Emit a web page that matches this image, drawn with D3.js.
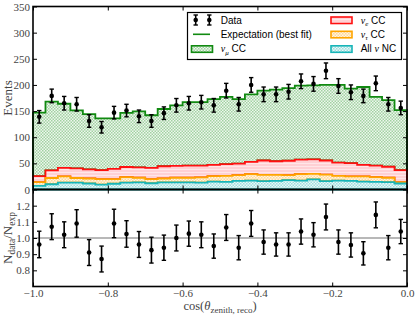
<!DOCTYPE html>
<html>
<head>
<meta charset="utf-8">
<script src="https://cdn.jsdelivr.net/npm/d3@7"></script>
<style>
  body { margin: 0; background: #fff; }
  svg { display: block; }
  .tick text { font-family: "Liberation Serif", "DejaVu Serif", serif; font-size: 11px; fill: #444; }
  .tick line { stroke: #000; stroke-width: 1; }
  .legend text { font-family: "Liberation Sans", Arial, sans-serif; font-size: 10px; fill: #000; }
</style>
</head>
<body>
<svg id="chart" width="415" height="317"></svg>
<script>
// 30 bins in cos(zenith) from -1 to 0
var nBins = 30;

var dataCounts = [139,179,165,163,131,119,147,151,140,131,146,161,165,167,161,
                  189,163,200,182,182,187,207,202,227,198,186,179,203,163,156];
var dataErr    = [12,13,13,13,12,11,12,12,12,12,12,13,13,13,13,
                  14,13,14,14,14,14,14,14,15,14,14,13,14,13,13];

// stacked MC components (per-bin contribution)
var allNC   = [7,10,13,13,11.5,9.5,11,13,13.5,12,13.5,13.5,13.5,13,15,
               14.5,16.5,17,16,16.5,18,17,19.5,16,17,16.5,15,14.5,14,11.5];
var nutauCC = [7,12,12,9,9.5,10.5,9,10.5,9,8,7.5,9,9,10,10.5,
               11.5,11,12.5,12,11.5,9.5,12.5,10.5,12.5,9,8.5,10,9,8.5,2.5];
var nueCC   = [11.5,14.5,16.5,18.5,17.5,17,19.5,19.5,20,21.5,23.5,22.5,23,22.5,21.5,
               22.5,22,23.5,27.5,26,27.5,27.5,27.5,27,25.5,25.5,22,22,21,23];
var numuCC  = [121.5,131.5,122.5,111,105.5,99,96.5,103.5,107,100.5,109.5,116,121.5,121.5,126,
               128.5,123.5,129,133.5,137,139,141.5,141.5,144.5,148.5,142.5,149,131.5,127.5,115];

var ratio    = [0.96,1.07,1.02,1.09,0.91,0.87,1.09,1.025,0.96,0.925,0.94,1.0,1.027,1.02,0.95,
                1.065,0.94,1.09,0.975,0.96,0.96,1.04,1.02,1.13,0.975,0.957,0.905,1.143,0.94,1.04];
var ratioErr = [0.082,0.08,0.08,0.085,0.08,0.08,0.088,0.082,0.08,0.08,0.078,0.08,0.078,0.08,0.075,
                0.08,0.075,0.08,0.075,0.072,0.072,0.078,0.075,0.08,0.075,0.075,0.072,0.08,0.075,0.075];

var yTicksTop   = [0,50,100,150,200,250,300,350];
var yTicksRatio = [0.8,0.9,1.0,1.1,1.2];
var xTicks      = [-1.0,-0.8,-0.6,-0.4,-0.2,0.0];

var svg = d3.select("#chart");
var left = 33, right = 407, topY = 6.5, midY = 189.5, botY = 286.5;

var x  = d3.scaleLinear().domain([-1, 0]).range([left, right]);
var y  = d3.scaleLinear().domain([0, 350]).range([midY, topY]);
var yr = d3.scaleLinear().domain([0.7, 1.3]).range([botY, midY]);

var edges = d3.range(nBins + 1).map(function(i) { return -1 + i / nBins; });
var centers = d3.range(nBins).map(function(i) { return (edges[i] + edges[i + 1]) / 2; });

// hatch patterns (checker like matplotlib's dense hatch)
var defs = svg.append("defs");
function checker(id, bg, fg) {
  var p = defs.append("pattern").attr("id", id)
      .attr("patternUnits", "userSpaceOnUse").attr("width", 3).attr("height", 3);
  p.append("rect").attr("width", 3).attr("height", 3).attr("fill", bg);
  p.append("rect").attr("width", 1.5).attr("height", 1.5).attr("fill", fg);
  p.append("rect").attr("x", 1.5).attr("y", 1.5).attr("width", 1.5).attr("height", 1.5).attr("fill", fg);
}
function stripes(id, bg, fg) {
  var p = defs.append("pattern").attr("id", id)
      .attr("patternUnits", "userSpaceOnUse").attr("width", 4).attr("height", 3);
  p.append("rect").attr("width", 4).attr("height", 3).attr("fill", bg);
  p.append("rect").attr("y", 1).attr("width", 4).attr("height", 1).attr("fill", fg);
}
checker("hG", "#eef7ee", "#a2d2a2");
stripes("hR", "#ffd0d4", "#ffe6e8");
checker("hO", "#fff4e2", "#ffd898");
checker("hC", "#ebf8f8", "#9edede");

var layers = [
  {key: "nc",    fill: "url(#hC)", stroke: "#17b5b8"},
  {key: "nutau", fill: "url(#hO)", stroke: "#ffa500"},
  {key: "nue",   fill: "url(#hR)", stroke: "#ff1010"},
  {key: "numu",  fill: "url(#hG)", stroke: "#118a11"}
];

var table = d3.range(nBins).map(function(i) {
  return {nc: allNC[i], nutau: nutauCC[i], nue: nueCC[i], numu: numuCC[i]};
});
var stacked = d3.stack().keys(layers.map(function(l) { return l.key; }))(table);

var area = d3.area()
    .curve(d3.curveStepAfter)
    .x(function(d) { return x(d.e); })
    .y0(function(d) { return y(d.v[0]); })
    .y1(function(d) { return y(d.v[1]); });

function stepPoints(s) {
  var pts = s.map(function(v, i) { return {e: edges[i], v: v}; });
  pts.push({e: edges[nBins], v: s[nBins - 1]});
  return pts;
}

var gStack = svg.append("g");
// draw top layer first so the lower outlines stay on top
for (var k = layers.length - 1; k >= 0; k--) {
  gStack.append("path")
      .attr("d", area(stepPoints(stacked[k])))
      .attr("fill", layers[k].fill)
      .attr("stroke", layers[k].stroke)
      .attr("stroke-width", 1.8)
      .attr("stroke-linejoin", "miter");
}

// data with error bars
function errbars(g, xs, ys, es, sy) {
  var cap = 2.2;
  var pts = g.selectAll(".pt").data(d3.range(xs.length)).enter().append("g");
  pts.append("line")
      .attr("x1", function(i) { return x(xs[i]); }).attr("x2", function(i) { return x(xs[i]); })
      .attr("y1", function(i) { return sy(ys[i] - es[i]); }).attr("y2", function(i) { return sy(ys[i] + es[i]); })
      .attr("stroke", "#000").attr("stroke-width", 1.6);
  [-1, 1].forEach(function(sg) {
    pts.append("line")
        .attr("x1", function(i) { return x(xs[i]) - cap; }).attr("x2", function(i) { return x(xs[i]) + cap; })
        .attr("y1", function(i) { return sy(ys[i] + sg * es[i]); }).attr("y2", function(i) { return sy(ys[i] + sg * es[i]); })
        .attr("stroke", "#000").attr("stroke-width", 1.4);
  });
  pts.append("circle")
      .attr("cx", function(i) { return x(xs[i]); })
      .attr("cy", function(i) { return sy(ys[i]); })
      .attr("r", 2.3).attr("fill", "#000");
}
errbars(svg.append("g"), centers, dataCounts, dataErr, y);

// ratio panel
svg.append("line")
    .attr("x1", left).attr("x2", right).attr("y1", yr(1)).attr("y2", yr(1))
    .attr("stroke", "#a0a0a0").attr("stroke-width", 1.5);
errbars(svg.append("g"), centers, ratio, ratioErr, yr);

// axes, ticks pointing inward
function axis(gen, tr) {
  var g = svg.append("g").attr("transform", tr).call(gen);
  g.select(".domain").remove();
  return g;
}
axis(d3.axisLeft(y).tickValues(yTicksTop).tickSizeInner(-4).tickSizeOuter(0).tickPadding(3),
     "translate(" + left + ",0)");
axis(d3.axisRight(y).tickValues(yTicksTop).tickSizeInner(-4).tickSizeOuter(0).tickFormat(""),
     "translate(" + right + ",0)");
axis(d3.axisTop(x).tickValues(xTicks).tickSizeInner(-4).tickSizeOuter(0).tickFormat(""),
     "translate(0," + topY + ")");
axis(d3.axisBottom(x).tickValues(xTicks).tickSizeInner(-4).tickSizeOuter(0).tickFormat(""),
     "translate(0," + midY + ")");
axis(d3.axisLeft(yr).tickValues(yTicksRatio).tickSizeInner(-4).tickSizeOuter(0).tickPadding(3)
       .tickFormat(d3.format(".1f")),
     "translate(" + left + ",0)");
axis(d3.axisRight(yr).tickValues(yTicksRatio).tickSizeInner(-4).tickSizeOuter(0).tickFormat(""),
     "translate(" + right + ",0)");
axis(d3.axisTop(x).tickValues(xTicks).tickSizeInner(-4).tickSizeOuter(0).tickFormat(""),
     "translate(0," + midY + ")");
axis(d3.axisBottom(x).tickValues(xTicks).tickSizeInner(-4).tickSizeOuter(0).tickPadding(3)
       .tickFormat(d3.format(".1f")),
     "translate(0," + botY + ")");

// frames
[[topY, midY], [midY, botY]].forEach(function(r) {
  svg.append("rect")
      .attr("x", left).attr("y", r[0]).attr("width", right - left).attr("height", r[1] - r[0])
      .attr("fill", "none").attr("stroke", "#000").attr("stroke-width", 1.6);
});

// axis labels
var serif = '"Liberation Serif", "DejaVu Serif", serif';
svg.append("text")
    .attr("transform", "translate(12," + (topY + midY) / 2 + ") rotate(-90)")
    .attr("text-anchor", "middle").style("font-family", serif).style("font-size", "13px")
    .attr("fill", "#444").text("Events");

var rl = svg.append("text")
    .attr("transform", "translate(12," + (midY + botY) / 2 + ") rotate(-90)")
    .attr("text-anchor", "middle").style("font-family", serif).style("font-size", "13px")
    .attr("fill", "#444");
rl.append("tspan").text("N");
rl.append("tspan").attr("dy", 3).style("font-size", "9.5px").text("data");
rl.append("tspan").attr("dy", -3).text("/N");
rl.append("tspan").attr("dy", 3).style("font-size", "9.5px").text("exp");

var xl = svg.append("text")
    .attr("x", (left + right) / 2).attr("y", 310)
    .attr("text-anchor", "middle").style("font-family", serif).style("font-size", "12.5px")
    .attr("fill", "#444");
xl.append("tspan").text("cos(");
xl.append("tspan").style("font-style", "italic").text("θ");
xl.append("tspan").attr("dy", 3).style("font-size", "9px").text("zenith, reco");
xl.append("tspan").attr("dy", -3).text(")");

// legend
var lg = svg.append("g").attr("class", "legend");
lg.append("rect").attr("x", 187.5).attr("y", 12.5).attr("width", 214).attr("height", 47)
    .attr("fill", "#fff").attr("stroke", "#000").attr("stroke-width", 1.2);

var rows = [20, 34.3, 48.8];
// data entry
[195.7, 209.3].forEach(function(px) {
  lg.append("line").attr("x1", px).attr("x2", px).attr("y1", rows[0] - 5).attr("y2", rows[0] + 5)
      .attr("stroke", "#000").attr("stroke-width", 1.6);
  [-5, 5].forEach(function(o) {
    lg.append("line").attr("x1", px - 2.2).attr("x2", px + 2.2).attr("y1", rows[0] + o).attr("y2", rows[0] + o)
        .attr("stroke", "#000").attr("stroke-width", 1.4);
  });
  lg.append("circle").attr("cx", px).attr("cy", rows[0]).attr("r", 2.3).attr("fill", "#000");
});
lg.append("line").attr("x1", 193).attr("x2", 210).attr("y1", rows[1]).attr("y2", rows[1])
    .attr("stroke", "#118a11").attr("stroke-width", 1.6);

var legPatches = [
  {x: 191.5, row: 2, layer: 3},
  {x: 331,   row: 0, layer: 2},
  {x: 331,   row: 1, layer: 1},
  {x: 331,   row: 2, layer: 0}
];
legPatches.forEach(function(p) {
  lg.append("rect").attr("x", p.x).attr("y", rows[p.row] - 3).attr("width", 21).attr("height", 6.5)
      .attr("fill", layers[p.layer].fill).attr("stroke", layers[p.layer].stroke).attr("stroke-width", 1.6);
});

function legText(tx, row) {
  return lg.append("text").attr("x", tx).attr("y", rows[row] + 3.6);
}
legText(220.7, 0).text("Data");
legText(220.7, 1).text("Expectation (best fit)");

function nuLabel(t, sub, rest) {
  t.append("tspan").style("font-family", serif).style("font-style", "italic").text("ν");
  if (sub) t.append("tspan").attr("dy", 2.5).style("font-family", serif).style("font-style", "italic")
      .style("font-size", "7px").text(sub);
  t.append("tspan").attr("dy", sub ? -2.5 : 0).text(rest);
}
nuLabel(legText(220.7, 2), "μ", " CC");
nuLabel(legText(360.7, 0), "e", " CC");
nuLabel(legText(360.7, 1), "τ", " CC");
var nc = legText(360.7, 2);
nc.append("tspan").text("All ");
nuLabel(nc, null, " NC");
</script>
</body>
</html>
